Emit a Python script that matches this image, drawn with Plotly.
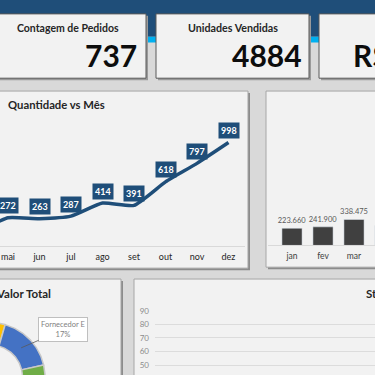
import numpy as np
import plotly.graph_objects as go

# ---------------- data ----------------
meses = ["jan", "fev", "mar", "abr", "mai", "jun", "jul", "ago", "set", "out", "nov", "dez"]
quantidade = [210, 225, 264, 145, 272, 263, 287, 414, 391, 618, 797, 998]
faturamento = [223660, 241900, 338475, 259850, 286400, 277150, 302980, 436210,
               412640, 651300, 840120, 1051890]
contagem_pedidos = 737
unidades_vendidas = sum(quantidade)

fornecedores = ["Fornecedor D", "Fornecedor E", "Fornecedor A", "Fornecedor C", "Fornecedor B"]
participacao = [0.19, 0.17, 0.26, 0.21, 0.17]

status_cat = ["Entregue", "Em trânsito", "Pendente", "Cancelado"]
status_qtd = [38, 27, 18, 9]
status_ticks = [50, 60, 70, 80, 90]

# ---------------- helpers (pixel -> paper) ----------------
W = H = 375
def fx(p):
    return p / W
def fy(p):
    return 1 - p / H

FONT = "Lato"
DARK_BLUE = "#1f4e79"
fig = go.Figure()
shapes = []

def rect(x0, y0, x1, y1, fill, line=None, lw=0):
    shapes.append(dict(type="rect", xref="paper", yref="paper", layer="below",
                       x0=fx(x0), x1=fx(x1), y0=fy(y1), y1=fy(y0),
                       fillcolor=fill,
                       line=dict(color=line if line else fill, width=lw)))

def panel(x0, y0, x1, y1, border="#a6a6a6", shadow="#8c8c8c", off=2):
    rect(x0 + off, y0 + off, x1 + off, y1 + off, shadow)
    rect(x0, y0, x1, y1, "#f2f2f2", border, 1)

# header band
rect(-5, -5, 380, 33, DARK_BLUE)
rect(-5, 33, 380, 39, "#00b0f0")
# KPI cards
panel(-10, 10, 146, 75, border="#595959", shadow="#9a9a9a")
panel(156, 10, 309, 75, border="#595959", shadow="#9a9a9a")
panel(319, 10, 390, 75, border="#595959", shadow="#9a9a9a")
# chart panels
panel(-10, 88, 248, 267)
panel(266, 88, 390, 266)
panel(-10, 278, 121, 390)
panel(134, 278, 390, 390)

annotations = []
def text(x, y, s, size, color="#262626", xanchor="center", bold=True):
    annotations.append(dict(xref="paper", yref="paper", x=fx(x), y=fy(y),
                            text=f"<b>{s}</b>" if bold else s, showarrow=False,
                            xanchor=xanchor, yanchor="middle",
                            font=dict(family=FONT, size=size, color=color)))

text(68, 24, "Contagem de Pedidos", 10.5)
text(139, 52, str(contagem_pedidos), 30, color="#0d0d0d", xanchor="right")
text(233, 24, "Unidades Vendidas", 10.7)
text(304, 52, str(unidades_vendidas), 30, color="#0d0d0d", xanchor="right")
total_fat = f"{sum(faturamento):,}".replace(",", ".")
text(351, 52, f"R$ {total_fat}", 30, color="#0d0d0d", xanchor="left")
text(6, 102, "Quantidade vs Mês", 11.3, xanchor="left")
text(53, 293, "Valor Total", 11.5, xanchor="right")
text(364, 293, "Status dos Pedidos", 11.5, xanchor="left")

# ---------------- line chart: Quantidade vs Mês ----------------
fig.add_trace(go.Scatter(x=meses, y=quantidade, mode="lines",
                         line=dict(color=DARK_BLUE, width=3.5, shape="spline", smoothing=0.5),
                         xaxis="x", yaxis="y", hoverinfo="skip", showlegend=False))
for m, q in zip(meses, quantidade):
    annotations.append(dict(xref="x", yref="y", x=m, y=q, yshift=12,
                            text=f"<b>{q}</b>", showarrow=False,
                            bgcolor=DARK_BLUE, borderpad=2,
                            font=dict(family=FONT, size=9, color="white")))

# ---------------- bar chart: faturamento ----------------
fig.add_trace(go.Bar(x=meses, y=faturamento, width=0.65,
                     marker=dict(color="#404040"),
                     texttemplate="%{y:,}", textposition="outside",
                     constraintext="none", cliponaxis=False,
                     textfont=dict(family=FONT, size=7.5, color="#595959"),
                     xaxis="x2", yaxis="y2", hoverinfo="skip", showlegend=False))

# ---------------- donut: fornecedores ----------------
cores = ["#ffc000", "#4472c4", "#70ad47", "#ed7d31", "#a5a5a5"]
rotacao = -52.4
R1, R0 = 1.0, 0.59
cum = np.concatenate([[0.0], np.cumsum(participacao)])
for i, (nome, p) in enumerate(zip(fornecedores, participacao)):
    a0 = rotacao + cum[i] * 360
    a1 = rotacao + cum[i + 1] * 360
    t = np.radians(np.linspace(a0, a1, 80))
    xs = np.concatenate([R1 * np.sin(t), R0 * np.sin(t[::-1]), [R1 * np.sin(t[0])]])
    ys = np.concatenate([R1 * np.cos(t), R0 * np.cos(t[::-1]), [R1 * np.cos(t[0])]])
    fig.add_trace(go.Scatter(x=xs, y=ys, mode="lines", fill="toself",
                             fillcolor=cores[i], line=dict(color="#c8c8c8", width=1.5),
                             xaxis="x3", yaxis="y3", hoverinfo="skip", showlegend=False))
mid = np.radians(rotacao + (cum[1] + cum[2]) / 2 * 360)
annotations.append(dict(xref="x3", yref="y3", x=0.78 * np.sin(mid), y=0.78 * np.cos(mid),
                        text=f"{fornecedores[1]}<br>{participacao[1]:.0%}",
                        showarrow=True, arrowhead=0, arrowwidth=0.8, arrowcolor="#595959",
                        ax=42, ay=-18, bgcolor="white", bordercolor="#bfbfbf",
                        borderwidth=1, borderpad=2,
                        font=dict(family=FONT, size=7.5, color="#7f7f7f")))

# ---------------- status chart ----------------
fig.add_trace(go.Bar(x=status_cat, y=status_qtd, marker=dict(color="#1f4e79"),
                     xaxis="x4", yaxis="y4", hoverinfo="skip", showlegend=False))

# ---------------- layout ----------------
hidden = dict(showgrid=False, zeroline=False, showticklabels=False, showline=False, ticks="")
fig.update_layout(
    width=W, height=H, margin=dict(l=0, r=0, t=0, b=0),
    paper_bgcolor="#d9d9d9", plot_bgcolor="rgba(0,0,0,0)",
    separators=",.", font=dict(family=FONT),
    shapes=shapes, annotations=annotations,
    xaxis=dict(domain=[0, fx(245)], type="category",
               range=[4 - 8 / 31.5, 4 + 237 / 31.5],
               showgrid=False, zeroline=False, showline=True, linecolor="#d9d9d9",
               ticks="", ticklabelstandoff=2,
               tickfont=dict(family=FONT, size=9, color="#262626")),
    yaxis=dict(domain=[fy(244.5), fy(118.9)], range=[0, 1200], **hidden),
    xaxis2=dict(domain=[fx(268), 1], type="category", anchor="y2",
                range=[(268 - 292) / 31, (375 - 292) / 31],
                showgrid=False, zeroline=False, showline=True, linecolor="#d9d9d9",
                ticks="", ticklabelstandoff=2,
                tickfont=dict(family=FONT, size=8.5, color="#404040")),
    yaxis2=dict(domain=[fy(244), fy(104.5)], range=[0, 1800000], anchor="x2", **hidden),
    xaxis3=dict(domain=[0, fx(118)], range=[10 / 55, 128 / 55], anchor="y3", **hidden),
    yaxis3=dict(domain=[0, fy(298)], range=[2 / 55, 79 / 55], anchor="x3", **hidden),
    xaxis4=dict(domain=[fx(155), 1], anchor="y4", type="category",
                showgrid=False, zeroline=False, showticklabels=False, ticks=""),
    yaxis4=dict(domain=[0, fy(309)], range=[42.73, 90.73], anchor="x4",
                tickvals=status_ticks, showgrid=True, gridcolor="#dcdcdc", gridwidth=1,
                zeroline=False, showline=False, ticks="", ticklabelstandoff=5,
                tickfont=dict(family=FONT, size=8, color="#8c8c8c")),
)

fig.write_html("out.html", config={"displayModeBar": False},
               post_script="document.body.style.margin='0px';document.body.style.overflow='hidden';")
